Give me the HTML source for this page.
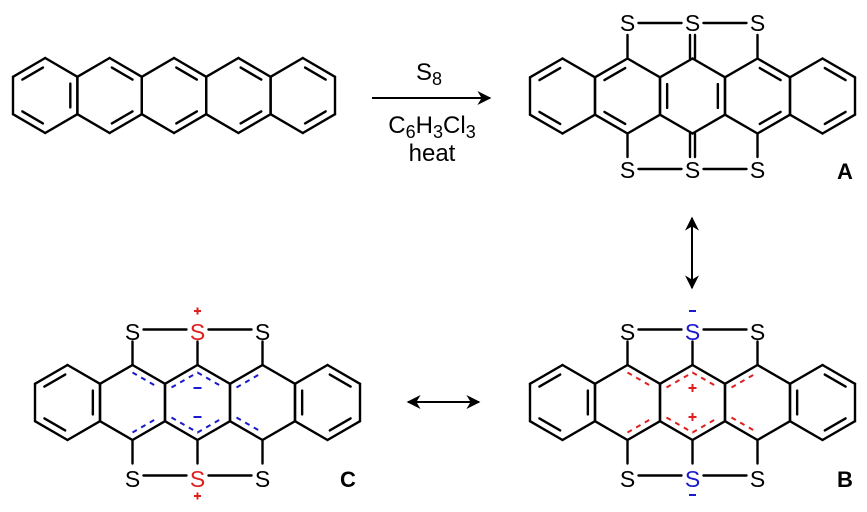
<!DOCTYPE html>
<html><head><meta charset="utf-8"><style>
html,body{margin:0;padding:0;background:#fff;width:867px;height:512px;overflow:hidden}
text{font-family:"Liberation Sans",sans-serif}
</style></head><body>
<svg id="s" width="867" height="512" viewBox="0 0 867 512" xmlns="http://www.w3.org/2000/svg">
<g id="g" stroke="#000" stroke-width="2.4" fill="none" stroke-linecap="round" stroke-linejoin="round"></g>
<defs>
<marker id="ah2" viewBox="0 0 10 10" refX="9" refY="5" markerWidth="16" markerHeight="14" orient="auto-start-reverse" markerUnits="userSpaceOnUse"><path d="M0,0 L10,5 L0,10 L3,5z" fill="#000"/></marker>
</defs>
<line x1="372" y1="98" x2="490" y2="98" stroke="#000" stroke-width="2" marker-end="url(#ah2)"/>
<line x1="692" y1="218" x2="692" y2="288" stroke="#000" stroke-width="2" marker-start="url(#ah2)" marker-end="url(#ah2)"/>
<line x1="408" y1="402" x2="479" y2="402" stroke="#000" stroke-width="2" marker-start="url(#ah2)" marker-end="url(#ah2)"/>
<g font-size="24" text-anchor="middle" fill="#000">
<text x="429" y="80">S<tspan font-size="18" dy="5">8</tspan></text>
<text x="432" y="133">C<tspan font-size="18" dy="5">6</tspan><tspan dy="-5">H</tspan><tspan font-size="18" dy="5">3</tspan><tspan dy="-5">Cl</tspan><tspan font-size="18" dy="5">3</tspan></text>
<text x="432" y="161">heat</text>
</g>
<g font-size="23" text-anchor="middle" fill="#000">
<text x="627.5" y="31">S</text><text x="692.5" y="31">S</text><text x="757.5" y="31">S</text>
<text x="627.5" y="178">S</text><text x="692.5" y="178">S</text><text x="757.5" y="178">S</text>
<text x="627.5" y="340">S</text><text x="692.5" y="340" fill="#1a1acc">S</text><text x="757.5" y="340">S</text>
<text x="627.5" y="487">S</text><text x="692.5" y="487" fill="#1a1acc">S</text><text x="757.5" y="487">S</text>
<text x="132.5" y="340">S</text><text x="197.5" y="340" fill="#e02020">S</text><text x="262.5" y="340">S</text>
<text x="132.5" y="487">S</text><text x="197.5" y="487" fill="#e02020">S</text><text x="262.5" y="487">S</text>
</g>
<g font-size="22" font-weight="bold" fill="#000">
<text x="837" y="179">A</text><text x="837" y="487">B</text><text x="340" y="487">C</text>
</g>
<g stroke-width="2" stroke-linecap="butt">
<line x1="689" y1="311" x2="696" y2="311" stroke="#1a1acc"/>
<line x1="689" y1="495" x2="696" y2="495" stroke="#1a1acc"/>
<path d="M194,311h7M197.5,307.5v7M194,496h7M197.5,492.5v7" stroke="#e02020"/>
<path d="M688.5,388h8M692.5,384v8M688.5,417h8M692.5,413v8" stroke="#e02020"/>
<path d="M193.5,388h8M193.5,417h8" stroke="#1a1acc"/>
</g>
</svg>
<script>
var g=document.getElementById('g'),NS='http://www.w3.org/2000/svg';
var W=32.5,H=18.7,T=37.5;
function ln(a,b,c,d){var e=document.createElementNS(NS,'line');e.setAttribute('x1',a);e.setAttribute('y1',b);e.setAttribute('x2',c);e.setAttribute('y2',d);g.appendChild(e);}
function pts(cx,cy){return[[cx,cy-T],[cx+W,cy-H],[cx+W,cy+H],[cx,cy+T],[cx-W,cy+H],[cx-W,cy-H]];}
function hex(cx,cy,dbl){var p=pts(cx,cy);for(var i=0;i<6;i++){var a=p[i],b=p[(i+1)%6];ln(a[0],a[1],b[0],b[1]);}
(dbl||[]).forEach(function(i){var a=p[i],b=p[(i+1)%6],s=0.78;var ax=cx+(a[0]-cx)*s,ay=cy+(a[1]-cy)*s,bx=cx+(b[0]-cx)*s,by=cy+(b[1]-cy)*s;var mx=(ax+bx)/2,my=(ay+by)/2,f=0.82;ln(mx+(ax-mx)*f,my+(ay-my)*f,mx+(bx-mx)*f,my+(by-my)*f);});}
function dpath(cx,cy,list,col){var p=pts(cx,cy),s=0.8;list.forEach(function(seq){var d='';seq.forEach(function(i,j){var x=cx+(p[i][0]-cx)*s,y=cy+(p[i][1]-cy)*s;d+=(j?'L':'M')+x.toFixed(1)+','+y.toFixed(1);});var e=document.createElementNS(NS,'path');e.setAttribute('d',d);e.setAttribute('stroke',col);e.setAttribute('stroke-width','2');e.setAttribute('stroke-dasharray','5,5');e.setAttribute('stroke-linecap','butt');g.appendChild(e);});}
var pc=[45.2,109.6,174,238.4,302.8];var WP=W;W=32.2;
hex(pc[0],95.5,[5,3,1]);for(var i=1;i<5;i++)hex(pc[i],95.5,[0,2]);W=WP;
function core(x0,cy,col,isA){var c=[];for(var i=0;i<5;i++)c.push(x0+65*i);
if(isA){hex(c[0],cy,[5,3]);hex(c[1],cy,[5,3]);hex(c[2],cy,[4,1]);hex(c[3],cy,[0,2]);hex(c[4],cy,[0,2]);}
else{hex(c[0],cy,[5,3,1]);hex(c[1],cy);hex(c[2],cy);hex(c[3],cy);hex(c[4],cy,[0,2,4]);
dpath(c[1],cy,[[0,1],[3,2]],col);dpath(c[2],cy,[[5,0,1],[4,3,2]],col);dpath(c[3],cy,[[5,0],[4,3]],col);}
var ty=cy-T,by=cy+T,sy=cy-73,sby=cy+73;
for(var k=1;k<4;k++){if(isA&&k==2){ln(c[k]-2.5,ty,c[k]-2.5,sy+12);ln(c[k]+2.5,ty,c[k]+2.5,sy+12);ln(c[k]-2.5,by,c[k]-2.5,sby-12);ln(c[k]+2.5,by,c[k]+2.5,sby-12);}
else{ln(c[k],ty,c[k],sy+12);ln(c[k],by,c[k],sby-12);}}
[[c[1],c[2]],[c[2],c[3]]].forEach(function(q){ln(q[0]+11,sy,q[1]-11,sy);ln(q[0]+11,sby,q[1]-11,sby);});}
core(562.5,96,null,true);
core(562.5,402.5,'#e02020',false);
core(67.5,402.5,'#1a1acc',false);
</script>
</body></html>
